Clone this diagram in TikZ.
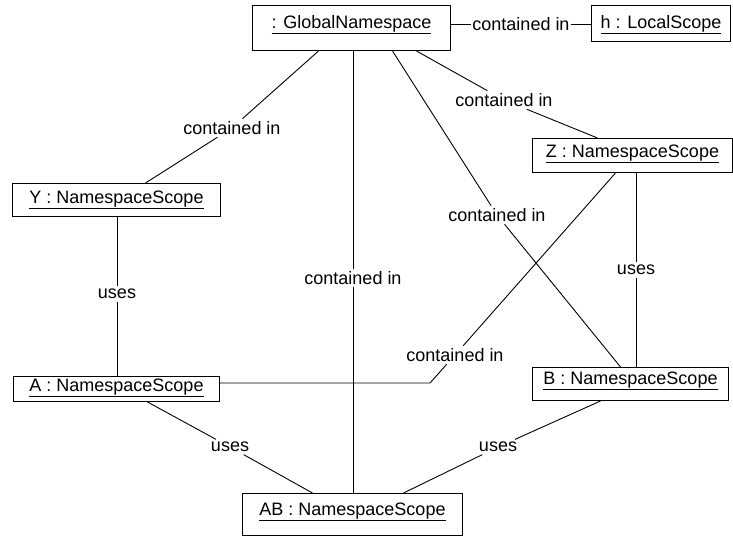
\documentclass[tikz,border=0pt]{standalone}
\usepackage{fontspec}
\setmainfont{Liberation Sans}

\begin{document}
\begin{tikzpicture}[x=1pt, y=-1pt, font=\fontsize{18}{21}\selectfont,
  obj/.style={draw, line width=1pt, anchor=north west, inner xsep=0pt, inner ysep=0pt},
  rel/.style={line width=0.9pt},
  lbl/.style={inner sep=2.5pt}]
\useasboundingbox (0,0) rectangle (733,536);

% objects
\node[obj, minimum width=198pt, text height=23pt, text depth=22pt] (glob) at (252,5) {\underline{: GlobalNamespace}};
\node[obj, minimum width=139pt, text height=23pt, text depth=13pt] (loc) at (591,5) {\underline{h : LocalScope}};
\node[obj, minimum width=208pt, text height=20pt, text depth=13pt] (Y) at (12,183) {\underline{Y : NamespaceScope}};
\node[obj, minimum width=200pt, text height=19pt, text depth=15pt] (Z) at (532,138) {\underline{Z : NamespaceScope}};
\node[obj, minimum width=206pt, text height=15pt, text depth=10pt] (A) at (13,376) {\underline{A : NamespaceScope}};
\node[obj, minimum width=196pt, text height=17pt, text depth=16pt] (B) at (532,367) {\underline{B : NamespaceScope}};
\node[obj, minimum width=220pt, text height=22pt, text depth=20pt] (AB) at (242,493) {\underline{AB : NamespaceScope}};

% link labels
\node[lbl, inner xsep=1pt] (lgh) at (521,24) {contained in};
\node[lbl] (lgy) at (232,128) {contained in};
\node[lbl] (lgab) at (353,278) {contained in};
\node[lbl] (lgb) at (497,215) {contained in};
\node[lbl] (lgz) at (504,100) {contained in};
\node[lbl] (laz) at (455,355) {contained in};
\node[lbl] (lya) at (117,294) {uses};
\node[lbl] (lzb) at (636,270) {uses};
\node[lbl] (laab) at (230,447) {uses};
\node[lbl] (lbab) at (498,447) {uses};

% links
\draw[rel] (glob.east |- lgh) -- (lgh.west);
\draw[rel] (lgh.east) -- (lgh -| loc.west);
\draw[rel] ([xshift=-33pt]glob.south) -- (lgy) -- ([xshift=29pt]Y.north);
\draw[rel] (glob.south -| lgab) -- (lgab) -- (AB.north -| lgab);
\draw[rel] ([xshift=41pt]glob.south) -- (lgb) -- ([xshift=-10pt]B.north);
\draw[rel] ([xshift=65pt]glob.south) -- (lgz) -- ([xshift=-35pt]Z.north);
\draw[rel] (Y.south -| lya) -- (lya) -- (A.north -| lya);
\draw[rel] (Z.south -| lzb) -- (lzb) -- (B.north -| lzb);
\coordinate (bend) at (430,383);
\draw[rel] (A.east |- bend) -- (bend) -- (laz) -- ([xshift=-17pt]Z.south);
\draw[rel] ([xshift=31pt]A.south) -- (laab) -- ([xshift=-40pt]AB.north);
\draw[rel] ([xshift=-30pt]B.south) -- (lbab) -- ([xshift=51pt]AB.north);

\end{tikzpicture}
\end{document}
